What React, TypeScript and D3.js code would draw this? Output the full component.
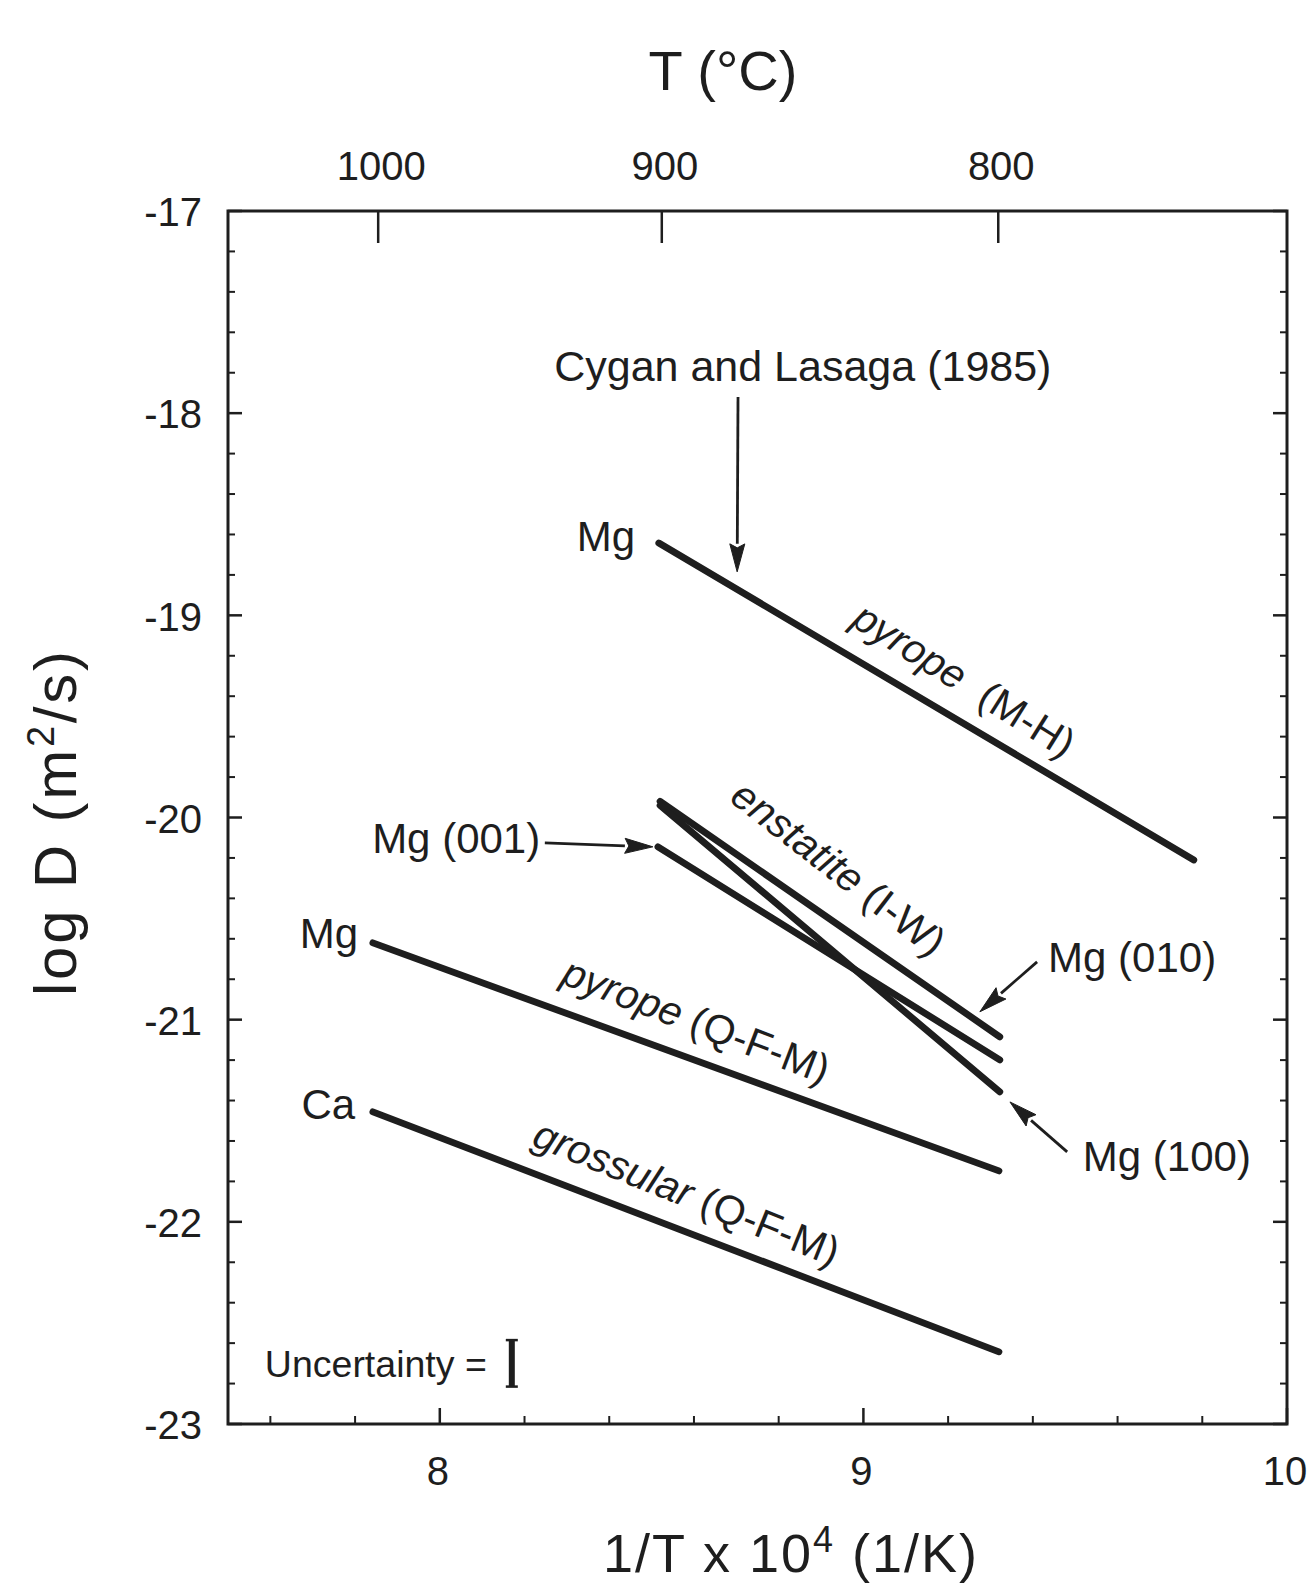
import React from 'react';
import * as d3 from 'd3';

// ---- axis definitions ----
const xDomain: [number, number] = [7.5, 10];
const yDomain: [number, number] = [-17, -23];
const xMajorTicks = [8, 9, 10];
const yMajorTicks = [-17, -18, -19, -20, -21, -22, -23];
const topTempTicks = [1000, 900, 800]; // °C

// ---- series (1/T x 10^4, log D) ----
const pyropeMH = [[8.517, -18.642], [9.78, -20.21]];
const enstatite010 = [[8.52, -19.92], [9.322, -21.085]];
const enstatite001 = [[8.515, -20.145], [9.322, -21.199]];
const enstatite100 = [[8.52, -19.94], [9.322, -21.357]];
const pyropeQFM = [[7.842, -20.62], [9.32, -21.748]];
const grossularQFM = [[7.842, -21.456], [9.32, -22.643]];

// ---- plain labels [x, y, text, anchor] ----
const pointLabels: [number, number, string, string][] = [
  [8.461, -18.607, 'Mg', 'end'],
  [7.807, -20.571, 'Mg', 'end'],
  [7.8, -21.416, 'Ca', 'end'],
  [8.237, -20.101, 'Mg (001)', 'end'],
  [9.436, -20.689, 'Mg (010)', 'start'],
  [9.518, -21.674, 'Mg (100)', 'start'],
  [8.857, -17.762, 'Cygan and Lasaga (1985)', 'middle'],
];

// ---- arrows [tailX, tailY, tipX, tipY] ----
const arrows: number[][] = [
  [8.704, -17.92, 8.702, -18.785],
  [8.248, -20.126, 8.503, -20.145],
  [9.41, -20.714, 9.275, -20.961],
  [9.481, -21.654, 9.346, -21.407],
];

const uncertaintyX = 8.17;
const uncertaintyY = -22.70;
const uncertaintyHalf = 0.115;

const W = 1309;
const H = 1583;
const FONT = "'Liberation Sans', Arial, Helvetica, sans-serif";
const INK = '#1e1e1e';

export default function App() {
  const x = d3.scaleLinear().domain(xDomain).range([228, 1287]);
  const y = d3.scaleLinear().domain(yDomain).range([211, 1424]);
  const [x0, x1] = x.range();
  const [y0, y1] = y.range();

  const lineGen = d3.line<number[]>().x(d => x(d[0])).y(d => y(d[1]));

  const minorX = d3.range(7.6, 9.81, 0.2).filter(v => Math.abs(v - Math.round(v)) > 1e-6);
  const minorY: number[] = [];
  for (let v = -17.2; v > -22.9; v -= 0.2) {
    if (Math.abs(v - Math.round(v)) > 1e-6) minorY.push(v);
  }
  const tempToX = (t: number) => 1e4 / (t + 273.15);

  const series = [pyropeMH, enstatite010, enstatite001, enstatite100, pyropeQFM, grossularQFM];

  const along = (s: number[][], t: number, d: number) => {
    const ax = x(s[0][0]), ay = y(s[0][1]);
    const bx = x(s[1][0]), by = y(s[1][1]);
    const th = Math.atan2(by - ay, bx - ax);
    const px = ax + (bx - ax) * t + d * Math.sin(th);
    const py = ay + (by - ay) * t - d * Math.cos(th);
    return { px, py, deg: (th * 180) / Math.PI };
  };

  const lineLabels = [
    { s: pyropeMH, t: 0.535, d: 38, name: 'pyrope', cond: '\u00a0 (M-H)', extra: 1.5 },
    { s: enstatite010, t: 0.447, d: 47, name: 'enstatite', cond: ' (I-W)', extra: 3 },
    { s: pyropeQFM, t: 0.496, d: 38, name: 'pyrope', cond: ' (Q-F-M)', extra: 1 },
    { s: grossularQFM, t: 0.48, d: 37, name: 'grossular', cond: ' (Q-F-M)', extra: 1 },
  ];

  const arrowPath = (a: number[]) => {
    const tx = x(a[0]), ty = y(a[1]);
    const hx = x(a[2]), hy = y(a[3]);
    const th = Math.atan2(hy - ty, hx - tx);
    const L = 28, hw = 7.5;
    const bx = hx - L * Math.cos(th), by = hy - L * Math.sin(th);
    const p1 = [bx + hw * Math.sin(th), by - hw * Math.cos(th)];
    const p2 = [bx - hw * Math.sin(th), by + hw * Math.cos(th)];
    return { tx, ty, bx, by, head: `M${hx},${hy}L${p1[0]},${p1[1]}L${bx + 4 * Math.cos(th)},${by + 4 * Math.sin(th)}L${p2[0]},${p2[1]}Z` };
  };

  return (
    <svg
      width={W}
      height={H}
      style={{ position: 'absolute', left: 0, top: 0, display: 'block', background: '#fff' }}
      fontFamily={FONT}
    >
      <rect x={0} y={0} width={W} height={H} fill="#fff" />

      {/* frame */}
      <rect x={x0} y={y0} width={x1 - x0} height={y1 - y0} fill="none" stroke={INK} strokeWidth={3} />

      {/* left & right ticks */}
      {yMajorTicks.map(v => (
        <g key={'ym' + v} stroke={INK} strokeWidth={2.5}>
          <line x1={x0} x2={x0 + 14} y1={y(v)} y2={y(v)} />
          <line x1={x1} x2={x1 - 14} y1={y(v)} y2={y(v)} />
        </g>
      ))}
      {minorY.map(v => (
        <g key={'yn' + v} stroke={INK} strokeWidth={2}>
          <line x1={x0} x2={x0 + 7} y1={y(v)} y2={y(v)} />
          <line x1={x1} x2={x1 - 7} y1={y(v)} y2={y(v)} />
        </g>
      ))}
      {/* bottom ticks */}
      {xMajorTicks.map(v => (
        <line key={'xm' + v} x1={x(v)} x2={x(v)} y1={y1} y2={y1 - 16} stroke={INK} strokeWidth={2.5} />
      ))}
      {minorX.map(v => (
        <line key={'xn' + v} x1={x(v)} x2={x(v)} y1={y1} y2={y1 - 8} stroke={INK} strokeWidth={2} />
      ))}
      {/* top temperature ticks */}
      {topTempTicks.map(t => (
        <line key={'tt' + t} x1={x(tempToX(t))} x2={x(tempToX(t))} y1={y0} y2={y0 + 32} stroke={INK} strokeWidth={2.5} />
      ))}

      {/* tick labels */}
      <g fill={INK} fontSize={40}>
        {yMajorTicks.map(v => (
          <text key={'yl' + v} x={x0 - 26} y={y(v)} dy="0.38em" textAnchor="end">{'-' + Math.abs(v)}</text>
        ))}
        {xMajorTicks.map(v => (
          <text key={'xl' + v} x={x(v) - 2} y={y1 + 61} textAnchor="middle">{v}</text>
        ))}
        {topTempTicks.map(t => (
          <text key={'tl' + t} x={x(tempToX(t)) + 3} y={y0 - 31} textAnchor="middle">{t}</text>
        ))}
      </g>

      {/* axis titles */}
      <g fill={INK}>
        <text x={723} y={90} textAnchor="middle" fontSize={56}>T (°C)</text>
        <text x={790} y={1572} textAnchor="middle" fontSize={54} textLength={374} lengthAdjust="spacing">
          1/T x 10<tspan fontSize={36} dy={-20}>4</tspan><tspan dy={20}> (1/K)</tspan>
        </text>
        <text transform={`translate(76,${(y0 + y1) / 2 + 6}) rotate(-90)`} textAnchor="middle" fontSize={60}
          textLength={345} lengthAdjust="spacing">
          log D (m<tspan fontSize={38} dy={-22}>2</tspan><tspan dy={22}>/s)</tspan>
        </text>
      </g>

      {/* data lines */}
      {series.map((s, i) => (
        <path key={'s' + i} d={lineGen(s) || ''} fill="none" stroke={INK} strokeWidth={6.8} strokeLinecap="round" />
      ))}

      {/* rotated labels */}
      <g fill={INK} fontSize={41}>
        {lineLabels.map((l, i) => {
          const p = along(l.s, l.t, l.d);
          return (
            <text key={'ll' + i} transform={`translate(${p.px},${p.py}) rotate(${p.deg + l.extra})`} textAnchor="middle" dy="0.35em">
              <tspan fontStyle="italic">{l.name}</tspan>
              <tspan>{l.cond}</tspan>
            </text>
          );
        })}
      </g>

      {/* plain labels */}
      <g fill={INK}>
        {pointLabels.map((l, i) => (
          <text key={'pl' + i} x={x(l[0])} y={y(l[1])} dy="0.36em" textAnchor={l[3]}
            fontSize={i === 6 ? 43 : 42}>{l[2]}</text>
        ))}
      </g>

      {/* arrows */}
      {arrows.map((a, i) => {
        const p = arrowPath(a);
        return (
          <g key={'ar' + i}>
            <line x1={p.tx} y1={p.ty} x2={p.bx} y2={p.by} stroke={INK} strokeWidth={2.8} />
            <path d={p.head} fill={INK} stroke={INK} strokeWidth={1} strokeLinejoin="miter" />
          </g>
        );
      })}

      {/* uncertainty */}
      <text x={x(7.587)} y={y(uncertaintyY)} dy="0.36em" fill={INK} fontSize={37.5}>Uncertainty =</text>
      <g stroke={INK}>
        <line x1={x(uncertaintyX)} x2={x(uncertaintyX)} y1={y(uncertaintyY + uncertaintyHalf)} y2={y(uncertaintyY - uncertaintyHalf)} strokeWidth={6} />
        <line x1={x(uncertaintyX) - 6} x2={x(uncertaintyX) + 6} y1={y(uncertaintyY + uncertaintyHalf)} y2={y(uncertaintyY + uncertaintyHalf)} strokeWidth={2.5} />
        <line x1={x(uncertaintyX) - 6} x2={x(uncertaintyX) + 6} y1={y(uncertaintyY - uncertaintyHalf)} y2={y(uncertaintyY - uncertaintyHalf)} strokeWidth={2.5} />
      </g>
    </svg>
  );
}
